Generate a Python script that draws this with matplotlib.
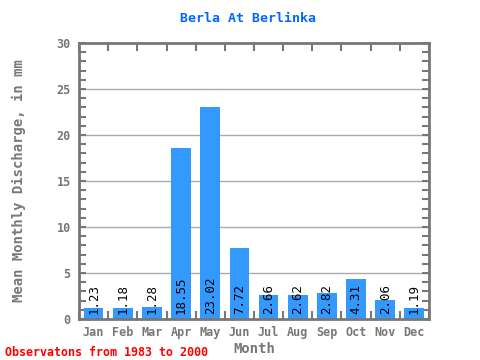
import matplotlib
matplotlib.use("Agg")
import matplotlib.pyplot as plt
import numpy as np

months = ["Jan", "Feb", "Mar", "Apr", "May", "Jun", "Jul", "Aug", "Sep", "Oct", "Nov", "Dec"]
values = [1.23, 1.18, 1.28, 18.55, 23.02, 7.72, 2.66, 2.62, 2.82, 4.31, 2.06, 1.19]
labels = ["1.23", "1.18", "1.28", "18.55", "23.02", "7.72", "2.66", "2.62", "2.82", "4.31", "2.06", "1.19"]
yticks = [0, 5, 10, 15, 20, 25, 30]

mono = "DejaVu Sans Mono"
fig = plt.figure(figsize=(4.8, 3.6), dpi=100)
ax = fig.add_axes([79/480, 1-319/360, 350/480, 276/360])

x = np.arange(len(months))
ax.set_axisbelow(True)
for g in [5, 10, 15, 20, 25]:
    ax.axhline(g, color="#aaaaaa", lw=1, zorder=0)
ax.bar(x, values, width=0.68, color="#3399ff", zorder=2)
for xi, lab in zip(x, labels):
    ax.text(xi, 0.5, lab, rotation=90, ha="center", va="bottom", fontsize=9,
            family=mono, color="black", zorder=3)

ax.set_xlim(-0.5, 11.5)
ax.set_ylim(0, 30)
for s in ax.spines.values():
    s.set_color("#777777")
    s.set_linewidth(2)

ax.set_yticks(yticks)
ax.set_yticklabels([str(t) for t in yticks], family=mono, fontsize=8.5, color="#777777", fontweight="bold")
ax.set_yticks(np.arange(0, 31, 1), minor=True)
ax.tick_params(axis="y", which="both", direction="in", length=5, width=1.5, color="#777777",
               left=True, right=True, pad=6)
ax.set_xticks(x)
ax.set_xticklabels(months, family=mono, fontsize=8.5, color="#777777", fontweight="bold")
ax.tick_params(axis="x", which="major", length=0, pad=5)
ax.set_xticks(np.arange(-0.5, 12, 1), minor=True)
ax.tick_params(axis="x", which="minor", direction="in", length=6, width=1.5, color="#777777",
               top=True, bottom=True)

ax.set_xlabel("Month", family=mono, fontsize=10, color="#777777", fontweight="bold", labelpad=2)
ax.set_ylabel("Mean Monthly Discharge, in mm", family=mono, fontsize=10, color="#777777",
              fontweight="bold", labelpad=22)
fig.text(248/480, 1-18/360, "Berla At Berlinka", ha="center", va="center", family=mono,
         fontsize=9.5, color="#0066ff", fontweight="bold")
fig.text(5/480, 1-352/360, "Observatons from 1983 to 2000", ha="left", va="center", family=mono,
         fontsize=8.4, color="#ff0000", fontweight="bold")

fig.savefig("out.png", dpi=100)
